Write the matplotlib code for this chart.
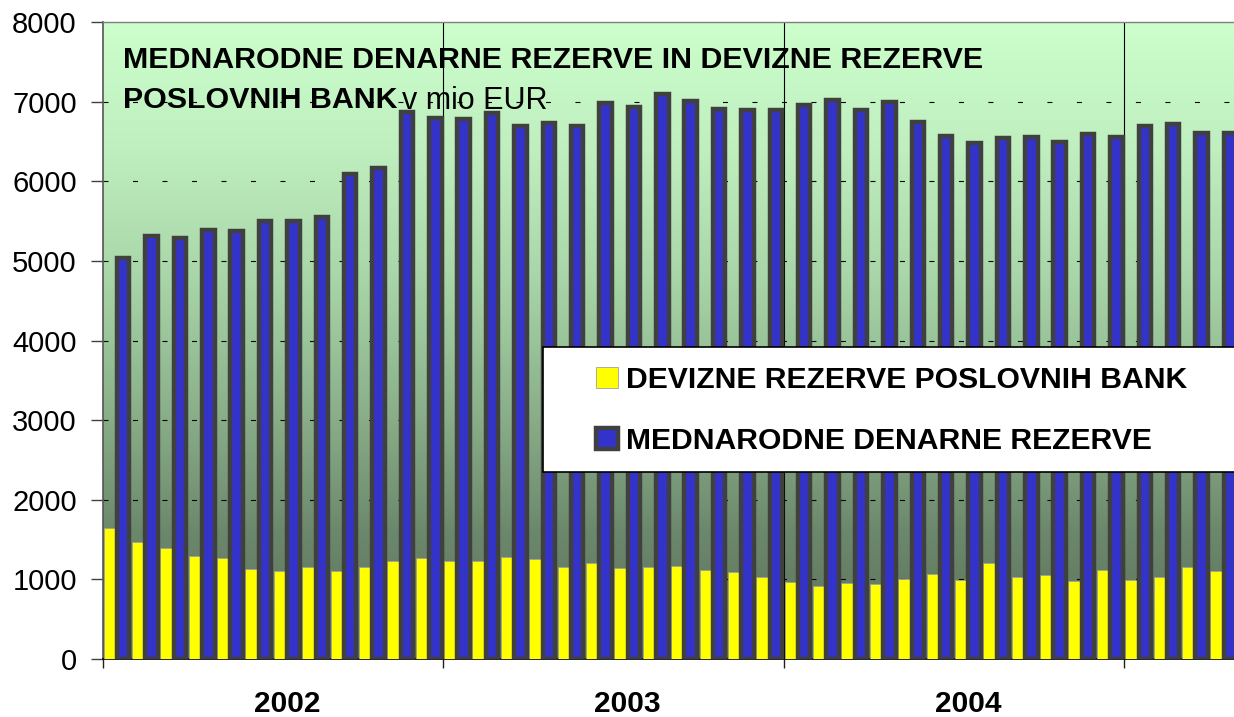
import numpy as np
import matplotlib
matplotlib.use("Agg")
import matplotlib.pyplot as plt
from matplotlib.colors import LinearSegmentedColormap
from matplotlib.patches import Rectangle

# mesecni podatki, jan 2002 - apr 2005 (mio EUR)
devizne = [1650, 1470, 1390, 1290, 1270, 1130, 1110, 1160, 1110, 1160, 1230, 1270,
           1230, 1230, 1280, 1250, 1150, 1200, 1140, 1150, 1170, 1120, 1090, 1030,
           970, 920, 960, 940, 1010, 1070, 990, 1210, 1030, 1060, 980, 1120,
           990, 1030, 1150, 1110]
mednarodne = [5040, 5310, 5290, 5390, 5370, 5500, 5500, 5550, 6090, 6170, 6870, 6800,
              6780, 6860, 6700, 6730, 6700, 6980, 6930, 7100, 7010, 6910, 6890, 6890,
              6960, 7020, 6890, 6990, 6750, 6570, 6480, 6540, 6560, 6490, 6590, 6560,
              6690, 6720, 6600, 6600]
years = ["2002", "2003", "2004"]
yticks = [0, 1000, 2000, 3000, 4000, 5000, 6000, 7000, 8000]
label_dev = "DEVIZNE REZERVE POSLOVNIH BANK"
label_med = "MEDNARODNE DENARNE REZERVE"

plt.rcParams["font.family"] = ["Liberation Sans", "DejaVu Sans"]

W, H = 1234, 717
fig = plt.figure(figsize=(W / 100, H / 100), dpi=100)
ax_l, ax_b, ax_t = 102.7, 659, 22
ax = fig.add_axes([ax_l / W, (H - ax_b) / H, (W - ax_l) / W, (ax_b - ax_t) / H])

xmax = (W - ax_l) / 28.38
ymax = 8000

# gradient ozadja
cmap = LinearSegmentedColormap.from_list("bg", [
    (0.0, "#5a6f5a"), (0.2, "#6c886c"), (0.4, "#8cb28c"),
    (0.6, "#a8d6a8"), (0.8, "#bfeebf"), (1.0, "#ccffcc")])
grad = np.linspace(0, 1, 256).reshape(-1, 1)
ax.imshow(grad, extent=[0, xmax, 0, ymax], origin="lower", aspect="auto",
          cmap=cmap, zorder=0)

n = np.arange(len(mednarodne))
b_dev = ax.bar(n + 0.03, devizne, width=0.47, align="edge", color="#ffff00",
               edgecolor="#a0a0a0", linewidth=0.6, zorder=3)
b_med = ax.bar(n + 0.5, mednarodne, width=0.44, align="edge", color="#3333cc",
               edgecolor="#404040", linewidth=3.2, zorder=3.1)

lw = 0.8
for v in yticks[1:-1]:
    ax.axhline(v, color="black", linewidth=lw, zorder=1,
               linestyle=(0, (5 / 1.389 / lw, 24.5 / 1.389 / lw)))
for k in range(1, len(years) + 1):
    ax.axvline(12 * k, color="black", linewidth=0.8, zorder=1)

ax.set_xlim(0, xmax)
ax.set_ylim(0, ymax)

ax.set_yticks(yticks)
ax.set_yticklabels([str(v) for v in yticks], fontsize=21)
ax.tick_params(axis="y", length=8.6, width=1, color="#404040", pad=10)

ax.set_xticks([12 * k for k in range(len(years) + 1)])
ax.set_xticklabels([])
ax.set_xticks([12 * k + 6.5 for k in range(len(years))], minor=True)
ax.set_xticklabels(years, minor=True, fontsize=21.5, fontweight="bold")
ax.tick_params(axis="x", which="major", length=6.5, width=1, color="#202020")
ax.tick_params(axis="x", which="minor", length=0, pad=22.5)

ax.spines["left"].set_color("#555555")
ax.spines["left"].set_linewidth(1.2)
ax.spines["bottom"].set_color("black")
ax.spines["bottom"].set_linewidth(1.2)
ax.spines["top"].set_color("#808080")
ax.spines["top"].set_linewidth(1.0)
ax.spines["right"].set_visible(False)

# naslov
fig.text(123 / W, 1 - 68 / H, "MEDNARODNE DENARNE REZERVE IN DEVIZNE REZERVE",
         fontsize=21.9, fontweight="bold", va="baseline")
fig.text(123 / W, 1 - 108 / H, "POSLOVNIH BANK", fontsize=21.9,
         fontweight="bold", va="baseline")
fig.text(402 / W, 1 - 109 / H, "v mio EUR", fontsize=22, va="baseline")

# legenda
box = Rectangle((543 / W, 1 - 472 / H), (W - 543 + 10) / W, 125 / H,
                transform=fig.transFigure, facecolor="white", edgecolor="black",
                linewidth=1.2, zorder=5)
fig.add_artist(box)
leg = fig.legend([b_dev, b_med], [label_dev, label_med], loc="upper left",
                 bbox_to_anchor=(596 / W, 1 - 366 / H), frameon=False,
                 borderpad=0, borderaxespad=0, handlelength=0.73, handleheight=0.71,
                 handletextpad=0.28, labelspacing=1.1,
                 prop={"weight": "bold", "size": 21.7})
leg.set_zorder(6)

fig.savefig("out.png", dpi=100)
